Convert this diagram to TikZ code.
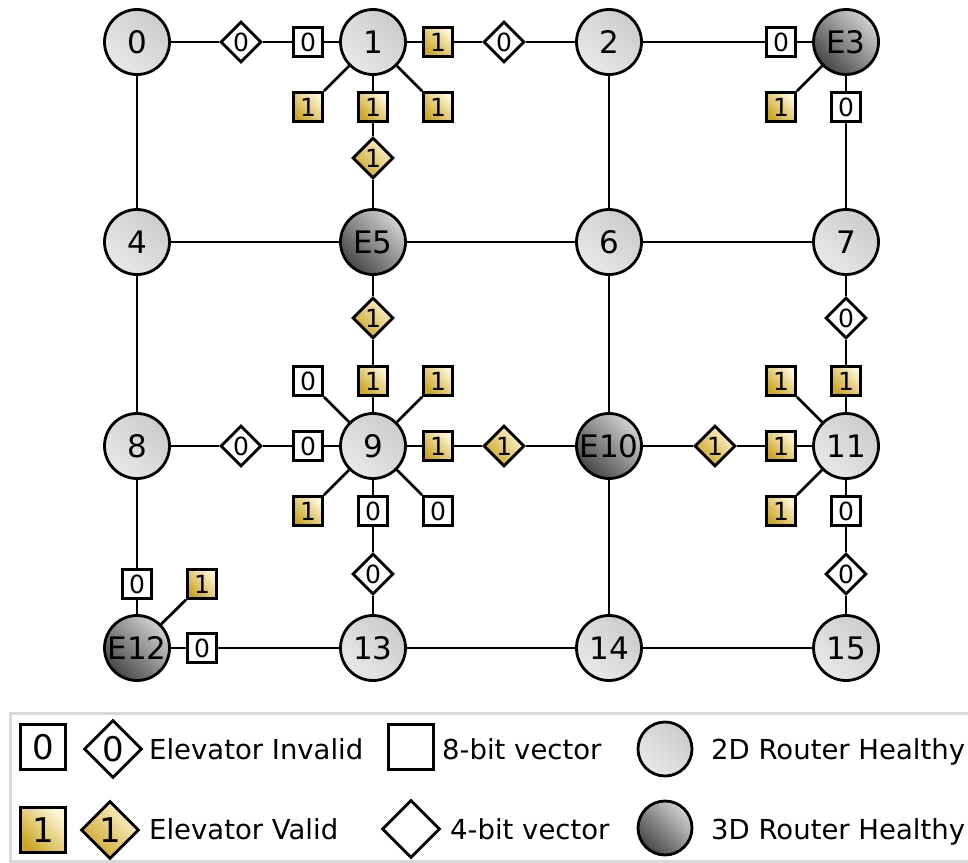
\documentclass[tikz,border=0pt]{standalone}
\usepackage{fontspec}
\setmainfont{DejaVu Sans}
\usepackage{xcolor}
\usepackage{tikz}
\usetikzlibrary{shapes.geometric,positioning}

\definecolor{gold}{RGB}{205,165,35}
\definecolor{goldlight}{RGB}{253,246,215}

\begin{document}
\begin{tikzpicture}[x=1pt,y=-1pt,
        router/.style={
            circle, draw=black, line width=2.8pt,
            minimum size=65pt, inner sep=0pt,
            font=\fontsize{31}{33}\selectfont,
            left color=gray!18, right color=gray!40, shading angle=135
        },
        router3d/.style={
            router, left color=black!72, right color=black!18, shading angle=135
        },
        vec8/.style={
            rectangle, draw=black, line width=2.8pt, fill=white,
            minimum size=29pt, inner sep=0pt,
            font=\fontsize{25}{27}\selectfont
        },
        vec4/.style={
            diamond, draw=black, line width=2.8pt, fill=white,
            minimum size=41pt, inner sep=0pt,
            font=\fontsize{25}{27}\selectfont
        },
        valid/.style={left color=gold, right color=goldlight, shading angle=135},
        legendtext/.style={anchor=base west, inner sep=0pt, font=\fontsize{27.5}{29}\selectfont},
        link/.style={line width=2.8pt}
    ]

    \useasboundingbox (0,0) rectangle (968,862);

    % routers
    \node[router]   (r0)  at (137,42)  {0};
    \node[router]   (r1)  at (373,42)  {1};
    \node[router]   (r2)  at (609,42)  {2};
    \node[router3d] (r3)  at (846,42)  {E3};
    \node[router]   (r4)  at (137,242) {4};
    \node[router3d] (r5)  at (373,242) {E5};
    \node[router]   (r6)  at (609,242) {6};
    \node[router]   (r7)  at (846,242) {7};
    \node[router]   (r8)  at (137,446) {8};
    \node[router]   (r9)  at (373,446) {9};
    \node[router3d] (r10) at (609,446) {E10};
    \node[router]   (r11) at (846,446) {11};
    \node[router3d] (r12) at (137,648) {E12};
    \node[router]   (r13) at (373,648) {13};
    \node[router]   (r14) at (609,648) {14};
    \node[router]   (r15) at (846,648) {15};

    % vectors of router 1
    \node[vec8]        (s1w)  at (308,42)  {0};
    \node[vec4]        (d1w)  at (241,42)  {0};
    \node[vec8,valid]  (s1e)  at (438,42)  {1};
    \node[vec4]        (d1e)  at (504,42)  {0};
    \node[vec8,valid]  (s1sw) at (308,107) {1};
    \node[vec8,valid]  (s1s)  at (373,107) {1};
    \node[vec8,valid]  (s1se) at (438,107) {1};
    \node[vec4,valid]  (d1s)  at (373,158) {1};

    % vectors of E3 and 7
    \node[vec8]        (s3w)  at (781,42)  {0};
    \node[vec8,valid]  (s3sw) at (781,107) {1};
    \node[vec8]        (s3s)  at (846,107) {0};
    \node[vec4]        (d7s)  at (846,318) {0};

    % vectors of router 9
    \node[vec4,valid]  (d9n)  at (373,318) {1};
    \node[vec8]        (s9nw) at (308,381) {0};
    \node[vec8,valid]  (s9n)  at (373,381) {1};
    \node[vec8,valid]  (s9ne) at (438,381) {1};
    \node[vec4]        (d9w)  at (241,446) {0};
    \node[vec8]        (s9w)  at (308,446) {0};
    \node[vec8,valid]  (s9e)  at (438,446) {1};
    \node[vec4,valid]  (d9e)  at (504,446) {1};
    \node[vec8,valid]  (s9sw) at (308,511) {1};
    \node[vec8]        (s9s)  at (373,511) {0};
    \node[vec8]        (s9se) at (438,511) {0};
    \node[vec4]        (d9s)  at (373,574) {0};

    % vectors of router 11
    \node[vec8,valid]  (s11nw) at (781,381) {1};
    \node[vec8,valid]  (s11n)  at (846,381) {1};
    \node[vec4,valid]  (d11w)  at (715,446) {1};
    \node[vec8,valid]  (s11w)  at (781,446) {1};
    \node[vec8,valid]  (s11sw) at (781,511) {1};
    \node[vec8]        (s11s)  at (846,511) {0};
    \node[vec4]        (d11s)  at (846,574) {0};

    % vectors of E12
    \node[vec8]        (s12n)  at (137,584) {0};
    \node[vec8,valid]  (s12ne) at (202,584) {1};
    \node[vec8]        (s12e)  at (202,648) {0};

    % horizontal links
    \draw[link] (r0) -- (d1w) -- (s1w) -- (r1) -- (s1e) -- (d1e) -- (r2) -- (s3w) -- (r3);
    \draw[link] (r4) -- (r5) -- (r6) -- (r7);
    \draw[link] (r8) -- (d9w) -- (s9w) -- (r9) -- (s9e) -- (d9e) -- (r10) -- (d11w) -- (s11w) -- (r11);
    \draw[link] (r12) -- (s12e) -- (r13) -- (r14) -- (r15);

    % vertical links
    \draw[link] (r0) -- (r4) -- (r8) -- (s12n) -- (r12);
    \draw[link] (r1) -- (s1s) -- (d1s) -- (r5) -- (d9n) -- (s9n) -- (r9) -- (s9s) -- (d9s) -- (r13);
    \draw[link] (r2) -- (r6) -- (r10) -- (r14);
    \draw[link] (r3) -- (s3s) -- (r7) -- (d7s) -- (s11n) -- (r11) -- (s11s) -- (d11s) -- (r15);

    % diagonal vectors
    \draw[link] (r1) -- (s1sw);
    \draw[link] (r1) -- (s1se);
    \draw[link] (r3) -- (s3sw);
    \draw[link] (r9) -- (s9nw);
    \draw[link] (r9) -- (s9ne);
    \draw[link] (r9) -- (s9sw);
    \draw[link] (r9) -- (s9se);
    \draw[link] (r11) -- (s11nw);
    \draw[link] (r11) -- (s11sw);
    \draw[link] (r12) -- (s12ne);

    % legend
    \draw[draw=gray!30, line width=3pt] (10,713) rectangle (980,861);
    \node[vec8, minimum size=45.5pt, font=\fontsize{34}{36}\selectfont] (lg0) at (43,747) {0};
    \node[vec4, minimum size=58pt, font=\fontsize{34}{36}\selectfont] (lgd0) at (113,749) {0};
    \node[legendtext] (lt0) at (149,759) {Elevator Invalid};
    \node[vec8, valid, minimum size=45.5pt, font=\fontsize{34}{36}\selectfont] (lg1) at (43,830) {1};
    \node[vec4, valid, minimum size=58pt, font=\fontsize{34}{36}\selectfont] (lgd1) at (110,830) {1};
    \node[legendtext] (lt1) at (149,839) {Elevator Valid};
    \node[vec8, minimum size=45.5pt] (lg8) at (411,747) {};
    \node[legendtext] (lt8) at (442,759) {8-bit vector};
    \node[vec4, minimum size=58pt] (lg4) at (411,829) {};
    \node[legendtext] (lt4) at (450,839) {4-bit vector};
    \node[router, minimum size=54pt] (lgr) at (665,749) {};
    \node[legendtext] (ltr) at (711,759) {2D Router Healthy};
    \node[router3d, minimum size=54pt] (lge) at (665,828) {};
    \node[legendtext] (lte) at (711,839) {3D Router Healthy};

\end{tikzpicture}
\end{document}
